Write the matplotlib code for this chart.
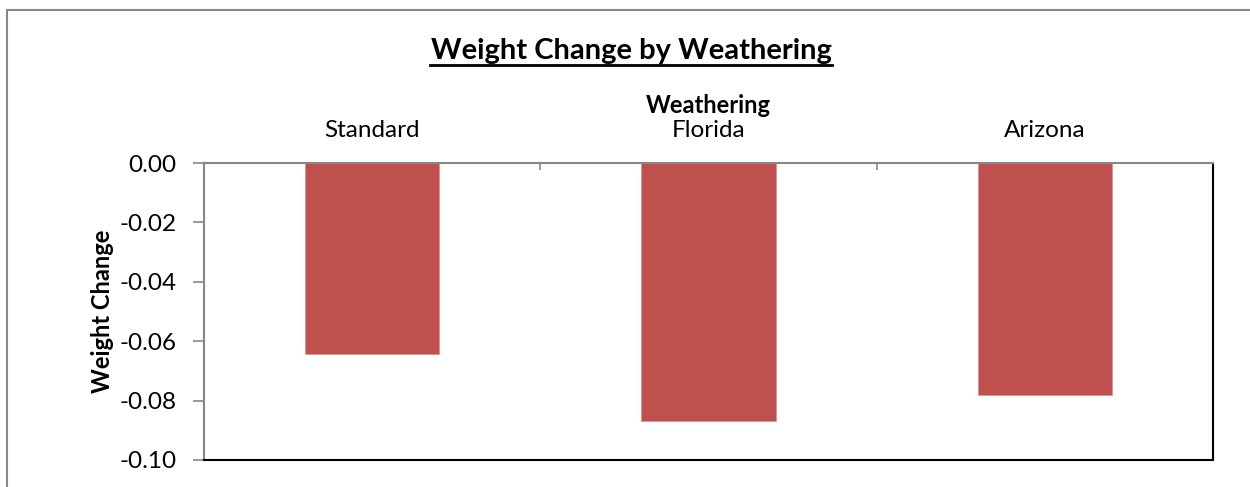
import matplotlib.pyplot as plt
from matplotlib.patches import Rectangle

plt.rcParams['font.family'] = ['Lato', 'DejaVu Sans']

categories = ['Standard', 'Florida', 'Arizona']
weight_change = [-0.0643, -0.0869, -0.0781]
y_ticks = [0.00, -0.02, -0.04, -0.06, -0.08, -0.10]

fig = plt.figure(figsize=(12.5, 4.87), dpi=100)
# outer chart frame (runs off the right and bottom edge)
fig.patches.append(Rectangle((7 / 1250, -0.05), 1.1, 1 - 10 / 487 + 0.05,
                             transform=fig.transFigure, fill=False,
                             edgecolor='#878787', linewidth=1.5))

ax = fig.add_axes([204 / 1250, 1 - 460 / 487, 1009 / 1250, 297 / 487])
x = range(len(categories))
ax.bar(x, weight_change, width=0.4, color='#C0504D', edgecolor='#D99694', linewidth=0.6)

ax.set_xlim(-0.5, 2.5)
ax.set_ylim(-0.10, 0.0)
ax.set_yticks(y_ticks)
ax.set_yticklabels(['%.2f' % v for v in y_ticks], fontsize=17.5)
ax.tick_params(axis='y', direction='out', length=8, color='#878787', width=1.2, pad=12)

ax.xaxis.tick_top()
ax.xaxis.set_label_position('top')
ax.set_xticks(list(x))
ax.set_xticklabels(categories, fontsize=17.5)
ax.set_xticks([0.5, 1.5], minor=True)
ax.tick_params(axis='x', which='major', length=0, pad=16)
ax.tick_params(axis='x', which='minor', direction='in', length=5, color='#878787', width=1.2)
ax.set_xlabel('Weathering', fontsize=17, fontweight='bold', labelpad=5)
ax.set_ylabel('Weight Change', fontsize=17, fontweight='bold', labelpad=4)

ax.spines['top'].set_color('#878787')
ax.spines['left'].set_color('#878787')
ax.spines['top'].set_linewidth(1.5)
ax.spines['left'].set_linewidth(1.5)
ax.spines['bottom'].set_color('black')
ax.spines['right'].set_color('black')
ax.spines['bottom'].set_linewidth(1.5)
ax.spines['right'].set_linewidth(1.5)

fig.text(631 / 1250, 1 - 59 / 487, 'Weight Change by Weathering', ha='center', va='baseline',
         fontsize=21, fontweight='bold')
# underline for the title
fig.add_artist(plt.Line2D([430 / 1250, 832 / 1250], [1 - 65 / 487, 1 - 65 / 487],
                          color='black', linewidth=2))

fig.savefig('out.png', dpi=100)
